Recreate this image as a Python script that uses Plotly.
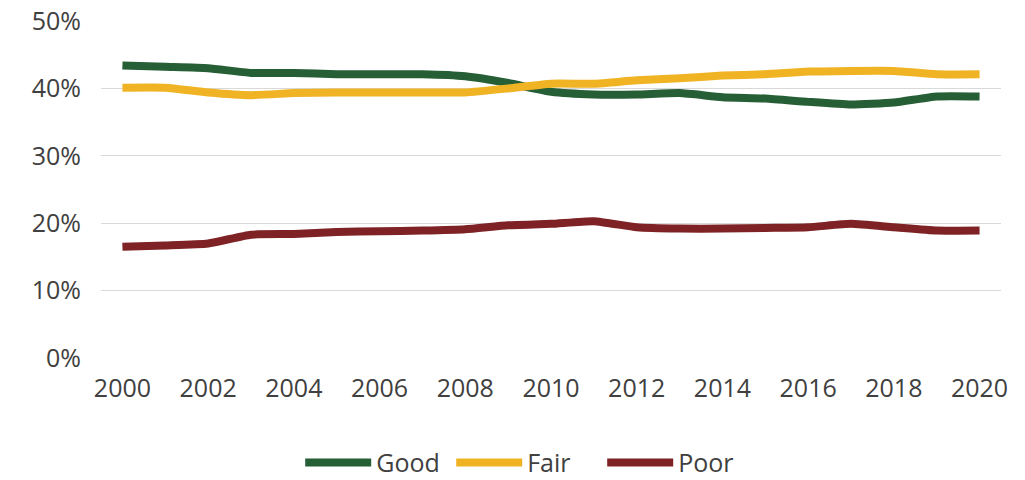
import plotly.graph_objects as go

years = list(range(2000, 2021))

good = [43.4, 43.2, 43.0, 42.3, 42.3, 42.1, 42.1, 42.1, 41.8, 40.8, 39.5,
        39.1, 39.1, 39.3, 38.7, 38.5, 38.0, 37.6, 37.9, 38.8, 38.8]
fair = [40.1, 40.1, 39.4, 39.0, 39.3, 39.4, 39.4, 39.4, 39.4, 40.0, 40.7,
        40.7, 41.2, 41.5, 41.9, 42.1, 42.5, 42.6, 42.6, 42.1, 42.1]
poor = [16.5, 16.7, 17.0, 18.3, 18.4, 18.7, 18.8, 18.9, 19.1, 19.7, 19.9,
        20.3, 19.4, 19.2, 19.2, 19.3, 19.4, 19.9, 19.4, 18.9, 18.9]

series = [
    ("Good", good, "#265E36"),
    ("Fair", fair, "#F0B323"),
    ("Poor", poor, "#7E2225"),
]

fig = go.Figure()
for name, vals, color in series:
    fig.add_trace(go.Scatter(
        x=years, y=[v / 100 for v in vals], name=name, mode="lines",
        line=dict(color=color, width=8, shape="spline", smoothing=0.5),
    ))

font_family = "Open Sans, Noto Sans, sans-serif"
fig.update_layout(
    width=1025, height=480,
    margin=dict(l=101, r=24, t=21, b=122, autoexpand=False),
    plot_bgcolor="white", paper_bgcolor="white",
    font=dict(family=font_family, size=25, color="#404040"),
    showlegend=True,
    legend=dict(orientation="h", x=0.473, xanchor="center",
                yref="container", y=0.036, yanchor="middle",
                font=dict(size=25, color="#404040"), itemwidth=66,
                entrywidth=70, entrywidthmode="pixels",
                traceorder="normal"),
    xaxis=dict(range=[1999.5, 2020.5], tickmode="array",
               tickvals=list(range(2000, 2021, 2)), showgrid=False,
               zeroline=False, showline=False, ticks="outside", ticklen=8,
               tickcolor="white"),
    yaxis=dict(range=[0, 0.5], tickformat=".0%", dtick=0.1, showgrid=True,
               gridcolor="#D9D9D9", gridwidth=1, zeroline=False, showline=False,
               ticks="outside", ticklen=14, tickcolor="white"),
)

fig.write_html("out.html")
